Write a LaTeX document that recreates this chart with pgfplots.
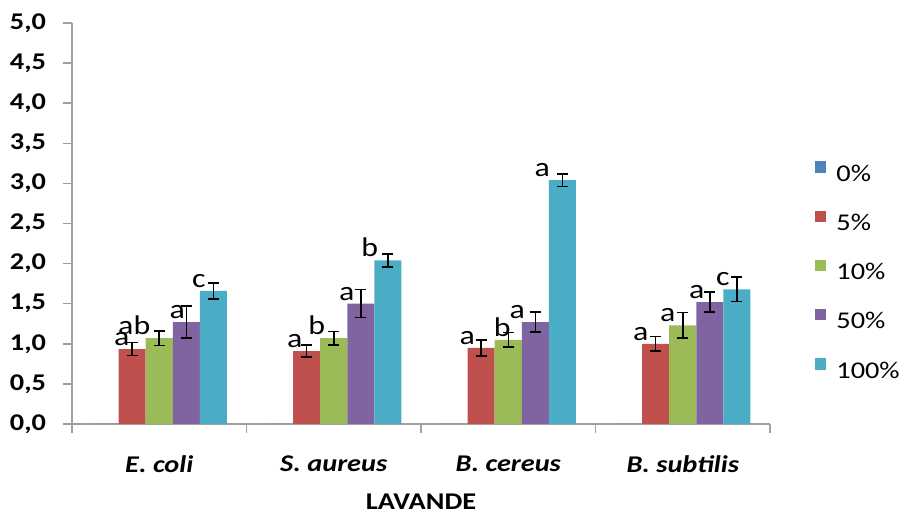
\documentclass[border=0pt]{standalone}
\usepackage{pgfplots}
\pgfplotsset{compat=1.18}
\usepackage{pgfplotstable}
\usepackage{fontspec}
\setmainfont{Carlito}[FakeStretch=1.18]

\definecolor{cblue}{HTML}{4F81BD}
\definecolor{cred}{HTML}{C0504D}
\definecolor{cgreen}{HTML}{9BBB59}
\definecolor{cpurple}{HTML}{8064A2}
\definecolor{ccyan}{HTML}{4BACC6}
\definecolor{axgray}{HTML}{A0A0A0}

\pgfplotstableread{
x y
-0.31 0
0.69 0
1.69 0
2.69 0
}\tblue

\pgfplotstableread{
x y e lab dx
-0.155 0.935 0.08 a -5.25
0.845 0.91 0.075 a -6
1.845 0.95 0.10 a -7
2.845 1.00 0.09 a -7.5
}\tred

\pgfplotstableread{
x y e lab dx
0 1.07 0.09 ab -12.5
1 1.07 0.085 b -8.5
2 1.05 0.09 b -3
3 1.23 0.16 a -7.5
}\tgreen

\pgfplotstableread{
x y e lab dx
0.155 1.27 0.20 a -4.5
1.155 1.50 0.175 a -7
2.155 1.27 0.125 a -9
3.155 1.52 0.125 a -6.5
}\tpurple

\pgfplotstableread{
x y e lab dx
0.31 1.66 0.10 c -7.25
1.31 2.04 0.08 b -9
2.31 3.04 0.08 a -10
3.31 1.68 0.15 c -7
}\tcyan

\pgfplotsset{
  mylegend/.style={legend image code/.code={\fill[##1] (0pt,0.3pt) rectangle (5.7pt,6pt);}},
  letters/.style={
    nodes near coords,
    point meta=explicit symbolic,
    visualization depends on={\thisrow{dx} \as \dx},
    nodes near coords style={font=\fontsize{13.5}{15}\selectfont, text=black, inner sep=0pt, anchor=south, xshift=\dx*1pt, yshift=1.5pt},
  },
  myerr/.style={
    error bars/.cd, y dir=both, y explicit,
    error bar style={black, line width=0.75pt},
    error mark options={rotate=90, mark size=2.75pt, line width=0.75pt, black},
  },
}

\begin{document}
\begin{tikzpicture}
\useasboundingbox (-36pt,-44pt) rectangle (414pt,212pt);
\begin{axis}[
  scale only axis, width=349pt, height=200.5pt,
  xmin=-0.5, xmax=3.5, ymin=0, ymax=5,
  ybar, bar width=0.155, bar shift=0pt,
  axis x line*=bottom, axis y line*=left,
  axis line style={draw=axgray, line width=0.75pt},
  tick align=outside,
  major tick length=4.5pt,
  tick style={draw=axgray, line width=0.75pt},
  xtick={0,1,2,3},
  xticklabels={E. coli, S. aureus, B. cereus, B. subtilis},
  major x tick style={draw=none},
  xticklabel style={font=\fontsize{12}{14}\selectfont\bfseries\itshape, yshift=-8pt},
  extra x ticks={-0.5,0.5,1.5,2.5,3.5},
  extra x tick labels={},
  extra x tick style={major x tick style={draw=axgray, line width=0.75pt}},
  ytick={0,0.5,1,1.5,2,2.5,3,3.5,4,4.5,5},
  yticklabel style={font=\fontsize{12}{14}\selectfont\bfseries,
    /pgf/number format/fixed, /pgf/number format/fixed zerofill,
    /pgf/number format/precision=1, /pgf/number format/use comma,
    /pgf/number format/assume math mode=true, xshift=-5pt},
  xlabel={LAVANDE},
  xlabel style={font=\fontsize{12}{14}\selectfont\bfseries, at={(axis description cs:0.5,0)}, anchor=north, inner sep=0pt, yshift=-35pt},
  legend style={draw=none, fill=none, at={(1.0645,0.655)}, anchor=north west,
    inner sep=0pt, outer sep=0pt, row sep=14.6pt, column sep=5pt,
    font=\fontsize{12}{14}\selectfont,
    nodes={inner sep=0pt, text height=8pt, text depth=0pt}},
  legend cell align=left,
]
\addplot[fill=cblue, draw=none, mylegend] table[x=x, y=y] {\tblue};
\addlegendentry{0\%}
\addplot[fill=cred, draw=none, mylegend, letters, myerr] table[x=x, y=y, y error=e, meta=lab] {\tred};
\addlegendentry{5\%}
\addplot[fill=cgreen, draw=none, mylegend, letters, myerr] table[x=x, y=y, y error=e, meta=lab] {\tgreen};
\addlegendentry{10\%}
\addplot[fill=cpurple, draw=none, mylegend, letters, myerr] table[x=x, y=y, y error=e, meta=lab] {\tpurple};
\addlegendentry{50\%}
\addplot[fill=ccyan, draw=none, mylegend, letters, myerr] table[x=x, y=y, y error=e, meta=lab] {\tcyan};
\addlegendentry{100\%}
\end{axis}
\end{tikzpicture}
\end{document}
